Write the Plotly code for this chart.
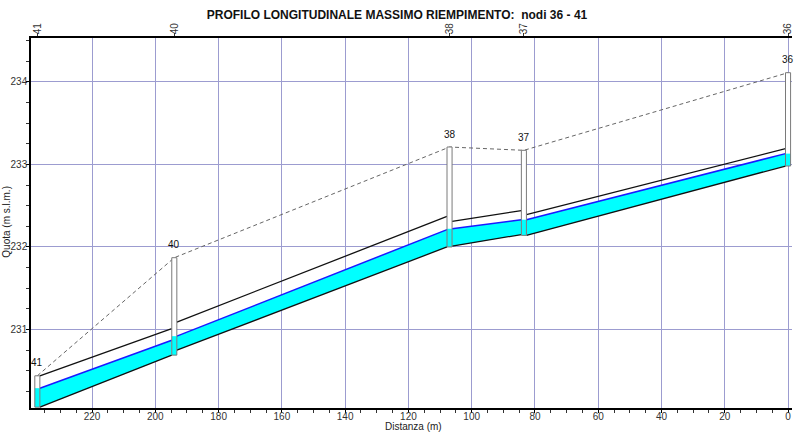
import plotly.graph_objects as go

# Nodes along the profile (distance measured from node 36)
nodes = ["41", "40", "38", "37", "36"]
distance = [237.3, 194.0, 107.0, 83.5, 0.0]
ground = [230.44, 231.87, 233.21, 233.17, 234.11]

# Pipe reaches between consecutive nodes (left end / right end)
invert_left = [230.06, 230.75, 232.01, 232.14]
invert_right = [230.69, 232.00, 232.15, 232.98]
water_left = [230.29, 230.92, 232.22, 232.33]
water_right = [230.87, 232.21, 232.33, 233.13]
crown_left = [230.44, 231.09, 232.31, 232.39]
crown_right = [231.01, 232.37, 232.44, 233.19]

x_ticks = list(range(0, 221, 20))

HW = 0.8  # manhole half width (m)
FONT = "Liberation Sans, Arial, sans-serif"
GRID = "#9c9cd0"
CYAN = "#00ffff"

fig = go.Figure()

def add(x, y, **kw):
    kw.setdefault("hoverinfo", "skip")
    fig.add_trace(go.Scatter(x=x, y=y, showlegend=False, **kw))

# water inside each pipe reach
for i in range(len(invert_left)):
    xl = distance[i] - HW
    xr = distance[i + 1] + HW
    add([xl, xr, xr, xl, xl],
        [invert_left[i], invert_right[i], water_right[i], water_left[i], invert_left[i]],
        mode="lines", fill="toself", fillcolor=CYAN, line=dict(width=0))
    add([xl, xr], [water_left[i], water_right[i]], mode="lines",
        line=dict(color="#1a1aff", width=1.5))
    add([xl, xr], [crown_left[i], crown_right[i]], mode="lines",
        line=dict(color="#111111", width=1.3))
    add([xl, xr], [invert_left[i], invert_right[i]], mode="lines",
        line=dict(color="#111111", width=1.3))

# ground level
add(distance, ground, mode="lines", line=dict(color="#666666", width=1, dash="4px,3px"))

# manholes
for k, d in enumerate(distance):
    inv = []
    wl = []
    if k < len(invert_left):
        inv.append(invert_left[k]); wl.append(water_left[k])
    if k > 0:
        inv.append(invert_right[k - 1]); wl.append(water_right[k - 1])
    bottom = min(inv)
    water = max(wl)
    x0, x1 = d + HW, d - HW
    add([x0, x1, x1, x0, x0], [bottom, bottom, ground[k], ground[k], bottom],
        mode="lines", fill="toself", fillcolor="white", line=dict(width=0))
    add([x0, x1, x1, x0, x0], [bottom, bottom, water, water, bottom],
        mode="lines", fill="toself", fillcolor=CYAN, line=dict(width=0))
    add([x0, x1, x1, x0, x0], [bottom, bottom, ground[k], ground[k], bottom],
        mode="lines", line=dict(color="#7a7a7a", width=1))
    fig.add_annotation(x=d, y=ground[k], text=nodes[k], showarrow=False,
                       yshift=13, yanchor="middle",
                       font=dict(family=FONT, size=10, color="#111111"))

# carrier trace for the top node axis
add([distance[0]], [ground[0]], mode="markers", marker=dict(opacity=0),
    xaxis="x2")

fig.update_layout(
    width=794, height=434,
    margin=dict(l=31, r=2, t=38, b=26),
    paper_bgcolor="white", plot_bgcolor="white",
    font=dict(family=FONT, size=10, color="#222222"),
    title=dict(text="<b>PROFILO LONGITUDINALE MASSIMO RIEMPIMENTO:\u00a0 nodi 36 - 41</b>",
               x=0.5, xanchor="center", y=1 - 15 / 434, yanchor="middle",
               font=dict(family=FONT, size=12, color="#111111")),
    xaxis=dict(range=[239.3, -1.25], tickmode="array", tickvals=x_ticks,
               ticktext=[str(v) for v in x_ticks],
               showgrid=True, gridcolor=GRID, gridwidth=1, zeroline=False,
               showline=True, linecolor="#000000", linewidth=1.5,
               ticks="outside", ticklen=3, tickcolor="#000000",
               ticklabelstandoff=-5,
               minor=dict(dtick=5, tick0=0, ticks="outside", ticklen=3,
                          tickcolor="#333333", showgrid=False),
               tickfont=dict(size=10, color="#333333")),
    xaxis2=dict(overlaying="x", side="top", anchor="y", matches="x",
                range=[239.3, -1.25], tickmode="array", tickvals=distance,
                ticktext=nodes, tickangle=-90, showgrid=False, zeroline=False,
                showline=True, linecolor="#000000", linewidth=1.5,
                ticks="outside", ticklen=3, tickcolor="#333333",
                ticklabelstandoff=-3,
                tickfont=dict(size=10, color="#333333")),
    yaxis=dict(range=[230.05, 234.53], dtick=1, tick0=230,
               showgrid=True, gridcolor=GRID, gridwidth=1, zeroline=False,
               showline=True, linecolor="#000000", linewidth=1.5,
               ticks="outside", ticklen=3, tickcolor="#000000",
               ticklabelstandoff=-3,
               minor=dict(dtick=0.25, ticks="outside", ticklen=3,
                          tickcolor="#333333", showgrid=False),
               tickfont=dict(size=10, color="#333333")),
)

fig.add_annotation(text="Distanza (m)", xref="paper", yref="paper",
                   x=(413 - 31) / 761, y=(408.3 - 427) / 370, showarrow=False,
                   xanchor="center", yanchor="middle",
                   font=dict(family=FONT, size=10, color="#222222"))
fig.add_annotation(text="Quota (m s.l.m.)", xref="paper", yref="paper",
                   x=(7 - 31) / 761, y=(408.3 - 222) / 370, showarrow=False,
                   textangle=-90, xanchor="center", yanchor="middle",
                   font=dict(family=FONT, size=10, color="#222222"))

fig.write_html("out.html")
